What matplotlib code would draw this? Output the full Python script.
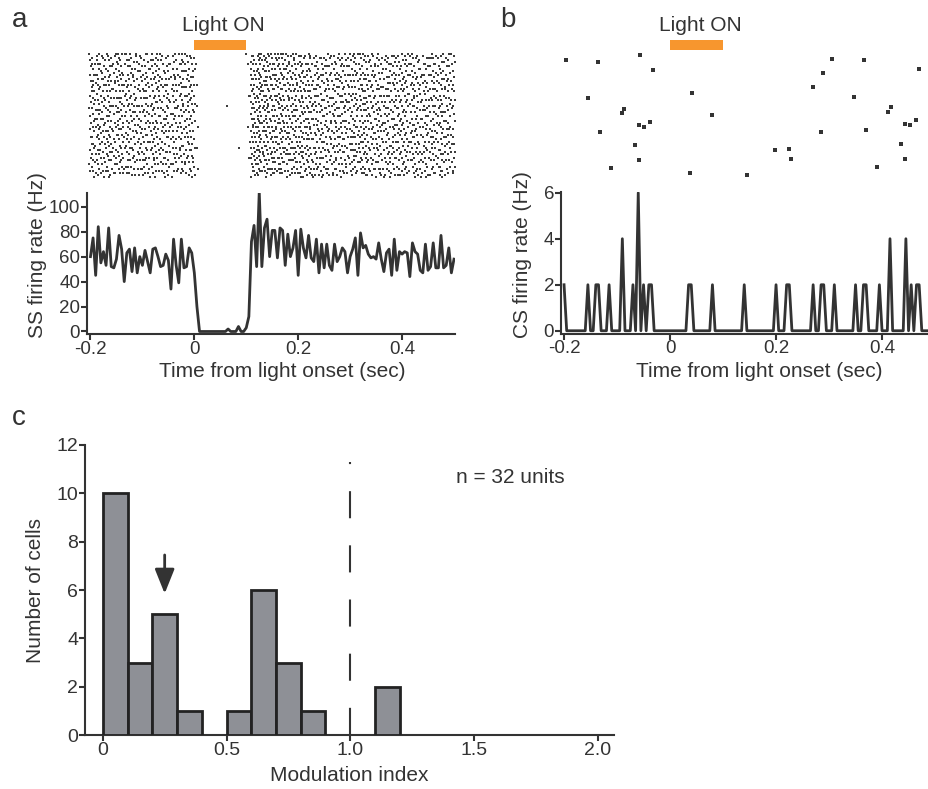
import numpy as np
import matplotlib
matplotlib.use("Agg")
import matplotlib.pyplot as plt
from matplotlib.patches import Rectangle

plt.rcParams['font.family'] = ['Liberation Sans', 'DejaVu Sans']
plt.rcParams['axes.unicode_minus'] = False

INK = '#333333'
ORANGE = '#F7962E'
BAR_GREY = '#8E9096'

BIN = 0.005
SS_TRIALS = 60
psth_time = np.round(np.arange(141) * BIN - 0.2, 3)

# simple spike rate (Hz), one value per 5 ms bin from -0.2 to 0.5 s
ss_rate = [
    60, 75, 45, 84, 55, 64, 53, 83, 52, 51, 58, 77, 66, 40, 63, 66, 48, 67, 47, 60,
    53, 65, 56, 47, 66, 67, 60, 52, 53, 62, 57, 34, 74, 53, 39, 74, 51, 52, 67, 63,
    47,
    20, 0, 0, 0, 0, 0, 0, 0, 0, 0, 0, 0, 2, 0, 0, 0, 4, 0, 0, 3, 12,
    72, 85, 52, 112, 52,
    83, 90, 60, 81, 81, 59, 83, 81, 53, 78, 60, 67, 81, 45, 82, 67, 59, 77, 59, 56,
    74, 47, 70, 51, 70, 53, 49, 70, 56, 60, 67, 64, 47, 60, 66, 75, 45, 79, 67, 69,
    62, 59, 60, 58, 71, 58, 48, 63, 66, 45, 74, 49, 64, 62, 64, 63, 44, 71, 64, 62,
    49, 47, 70, 49, 52, 71, 51, 51, 77, 51, 53, 67, 47, 58,
]

# complex spike rate: only the non-empty bins
cs_peak_times = [-0.2, -0.155, -0.14, -0.135, -0.115, -0.09, -0.07, -0.06, -0.05,
                 -0.04, -0.035, 0.035, 0.04, 0.08, 0.14, 0.2, 0.22, 0.225, 0.27,
                 0.285, 0.29, 0.31, 0.35, 0.365, 0.37, 0.395, 0.415, 0.445, 0.455,
                 0.465, 0.47]
cs_peak_rates = [2, 2, 2, 2, 2, 4, 2, 6, 2,
                 2, 2, 2, 2, 2, 2, 2, 2, 2, 2,
                 2, 2, 2, 2, 2, 2, 2, 4, 4, 2,
                 2, 2]

# complex spike raster (time in s, trial number)
cs_spike_times = [-0.196, -0.136, -0.056, -0.032, -0.155, 0.041, -0.086, -0.090,
                  0.080, -0.132, -0.058, -0.050, -0.037, -0.066, -0.059, -0.111,
                  0.038, 0.145, 0.198, 0.224, 0.228, 0.284, 0.270, 0.288, 0.306,
                  0.347, 0.366, 0.370, 0.412, 0.416, 0.470, 0.443, 0.453, 0.465,
                  0.436, 0.443, 0.391]
cs_spike_trials = [6, 7, 2, 14, 36, 32, 45, 48,
                   50, 63, 58, 59, 55, 74, 86, 92,
                   96, 98, 78, 77, 85, 63, 27, 16, 5,
                   35, 6, 62, 47, 43, 13, 57, 58, 54,
                   73, 85, 91]

# modulation index histogram
mod_bin_left = [0.0, 0.1, 0.2, 0.3, 0.5, 0.6, 0.7, 0.8, 1.1]
n_cells = [10, 3, 5, 1, 1, 6, 3, 1, 2]
n_units = 32


def ss_raster(rate, n_trials):
    # lay out the spikes behind each PSTH bin over the trials
    times, trials = [], []
    for k, (t, r) in enumerate(zip(psth_time, rate)):
        n = int(round(r * n_trials * BIN))
        if n == 0:
            continue
        j = np.arange(n)
        tr = np.floor(k * 5 + j * n_trials / n) % n_trials
        frac = (j * 0.382 + k * 0.137) % 1.0
        times.extend(t + BIN * (frac - 0.5))
        trials.extend((tr + 0.5) * 100.0 / n_trials)
    return np.array(times), np.array(trials)


def style_axes(ax, lw=1.5, size=13.5):
    for side in ['top', 'right']:
        ax.spines[side].set_visible(False)
    for side in ['left', 'bottom']:
        ax.spines[side].set_linewidth(lw)
        ax.spines[side].set_color(INK)
    ax.tick_params(direction='out', length=4, width=lw, color=INK,
                   labelcolor=INK, labelsize=size, pad=1)


def light_bar(ax, label_x):
    tr = ax.get_xaxis_transform()
    ax.add_patch(Rectangle((0.0, 1.024), 0.1, 0.078, transform=tr,
                           color=ORANGE, clip_on=False, lw=0))
    ax.text(label_x, 1.215, 'Light ON', transform=tr, ha='center', va='center',
            fontsize=15, color=INK)


fig = plt.figure(figsize=(9.29, 7.89), dpi=100)

# panel a
ax_ra = fig.add_axes([0.0937, 0.7719, 0.3961, 0.161])
st, stri = ss_raster(ss_rate, SS_TRIALS)
ax_ra.scatter(st, stri, marker='s', s=2.2, color='#3c3c3c', linewidths=0)
ax_ra.set_xlim(-0.2066, 0.502)
ax_ra.set_ylim(101.6, 0)
ax_ra.axis('off')
light_bar(ax_ra, 0.055)

ax_a = fig.add_axes([0.0937, 0.5767, 0.3961, 0.1787])
ax_a.plot(psth_time, ss_rate, color=INK, lw=2)
ax_a.set_xlim(-0.2066, 0.502)
ax_a.set_ylim(-2, 111)
ax_a.set_yticks([0, 20, 40, 60, 80, 100])
ax_a.set_xticks([-0.2, 0, 0.2, 0.4])
ax_a.set_xticklabels(['-0.2', '0', '0.2', '0.4'])
style_axes(ax_a)
ax_a.set_ylabel('SS firing rate (Hz)', fontsize=15, color=INK)
ax_a.set_xlabel('Time from light onset (sec)', fontsize=15, color=INK)
ax_a.yaxis.set_label_coords(-0.11, 0.56)
ax_a.xaxis.set_label_coords(0.53, -0.2)

# panel b
ax_rb = fig.add_axes([0.6039, 0.7719, 0.4026, 0.161])
ax_rb.scatter(cs_spike_times, cs_spike_trials, marker='s', s=5, color=INK,
              linewidths=0)
ax_rb.set_xlim(-0.2057, 0.5)
ax_rb.set_ylim(101.6, 0)
ax_rb.axis('off')
light_bar(ax_rb, 0.057)

cs_rate = np.zeros(len(psth_time))
for t, r in zip(cs_peak_times, cs_peak_rates):
    cs_rate[np.argmin(np.abs(psth_time - t))] = r

ax_b = fig.add_axes([0.6039, 0.5773, 0.4026, 0.1793])
ax_b.plot(psth_time, cs_rate, color=INK, lw=2)
ax_b.set_xlim(-0.2057, 0.5)
ax_b.set_ylim(-0.12, 6.03)
ax_b.set_yticks([0, 2, 4, 6])
ax_b.set_xticks([-0.2, 0, 0.2, 0.4])
ax_b.set_xticklabels(['-0.2', '0', '0.2', '0.4'])
style_axes(ax_b)
ax_b.set_ylabel('CS firing rate (Hz)', fontsize=15, color=INK)
ax_b.set_xlabel('Time from light onset (sec)', fontsize=15, color=INK)
ax_b.yaxis.set_label_coords(-0.078, 0.56)
ax_b.xaxis.set_label_coords(0.53, -0.2)

# panel c
ax_c = fig.add_axes([0.0915, 0.0684, 0.5694, 0.3676])
ax_c.bar(mod_bin_left, n_cells, width=0.1, align='edge', color=BAR_GREY,
         edgecolor='#222222', linewidth=2, zorder=3)
ax_c.plot([1.0, 1.0], [11.3, 0], color=INK, lw=1.5, linestyle=(12, (13, 13)))
ax_c.annotate('', xy=(0.25, 5.85), xytext=(0.25, 7.45),
              arrowprops=dict(arrowstyle='-|>,head_length=1.5,head_width=0.6',
                              lw=2, color=INK, shrinkA=0, shrinkB=0))
ax_c.text(1.645, 10.66, f'n = {n_units} units', ha='center', va='center',
          fontsize=15, color=INK)
ax_c.set_xlim(-0.072, 2.066)
ax_c.set_ylim(0, 12)
ax_c.set_yticks(range(0, 13, 2))
ax_c.set_xticks([0, 0.5, 1.0, 1.5, 2.0])
ax_c.set_xticklabels(['0', '0.5', '1.0', '1.5', '2.0'])
style_axes(ax_c, size=14)
ax_c.set_ylabel('Number of cells', fontsize=15, color=INK)
ax_c.set_xlabel('Modulation index', fontsize=15, color=INK, labelpad=5)
ax_c.yaxis.set_label_coords(-0.076, 0.5)

fig.text(0.013, 0.975, 'a', fontsize=20, color=INK, va='center')
fig.text(0.538, 0.975, 'b', fontsize=20, color=INK, va='center')
fig.text(0.013, 0.47, 'c', fontsize=20, color=INK, va='center')

fig.savefig('out.png', dpi=100)
